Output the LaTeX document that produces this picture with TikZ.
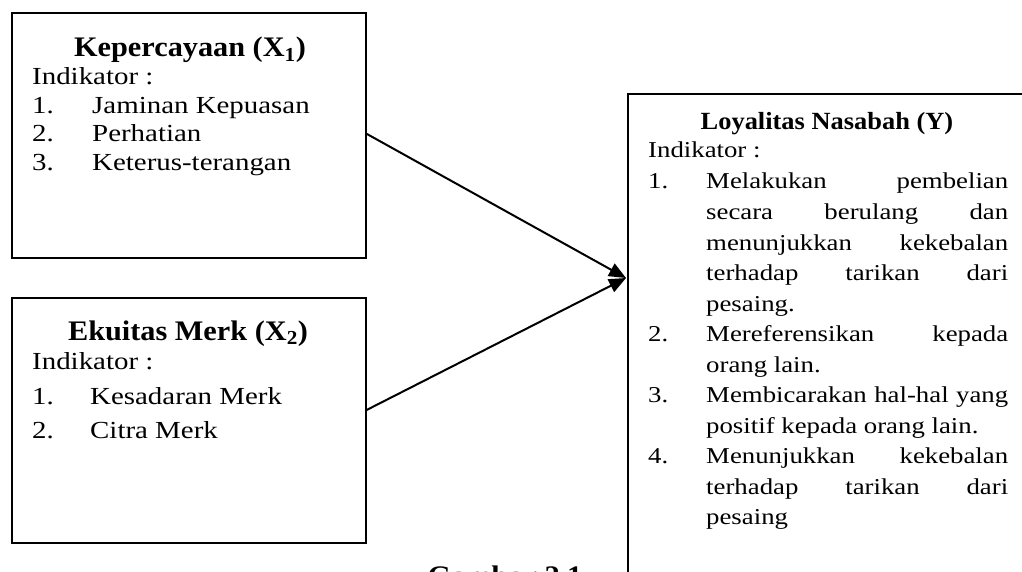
\documentclass[tikz,border=0pt]{standalone}
\usepackage{fontspec}
\setmainfont{Liberation Serif}[FakeStretch=1.07]
\newfontfamily\bodyfam{Liberation Serif}[FakeStretch=1.18]
\usetikzlibrary{arrows.meta}
\newcommand{\justline}[1]{\makebox[302pt][s]{#1}}
\tikzset{
  frame/.style={draw, line width=1.8pt, anchor=north west, inner sep=0pt},
  ttl/.style={font=\bfseries\fontsize{28.3}{30}\selectfont, anchor=base, inner sep=0pt},
  bodyA/.style={font=\bodyfam\fontsize{24.5}{28}\selectfont, anchor=base west, inner sep=0pt},
  ttlC/.style={font=\bfseries\fontsize{24.7}{28}\selectfont, anchor=base, inner sep=0pt},
  bodyC/.style={font=\bodyfam\fontsize{22.7}{28}\selectfont, anchor=base west, inner sep=0pt},
  link/.style={line width=2pt, -{Triangle[length=17pt,width=14pt]}}
}
\begin{document}
\begin{tikzpicture}[x=1pt,y=-1pt]
\useasboundingbox (0,0) rectangle (1022,572);
\clip (0,0) rectangle (1022,572);
% boxes
\node[frame, minimum width=354pt, minimum height=245pt] (k) at (11,12) {};
\node[frame, minimum width=354pt, minimum height=245pt] (e) at (11,297) {};
\node[frame, minimum width=397pt, minimum height=540pt] (y) at (627,93) {};
% box 1
\node[ttl] (k-title) at (190,57) {Kepercayaan (X\textsubscript{1})};
\node[bodyA] (k-ind) at (32,85) {Indikator :};
\foreach \n/\txt/\yy in {1/Jaminan Kepuasan/113.5, 2/Perhatian/142, 3/Keterus-terangan/170.5}{
  \node[bodyA] (k-n\n) at (32,\yy) {\n.};
  \node[bodyA] (k-i\n) at (92,\yy) {\txt};
}
% box 2
\node[ttl] (e-title) at (188,340) {Ekuitas Merk (X\textsubscript{2})};
\node[bodyA] (e-ind) at (32,369) {Indikator :};
\foreach \n/\txt/\yy in {1/Kesadaran Merk/404, 2/Citra Merk/438}{
  \node[bodyA] (e-n\n) at (32,\yy) {\n.};
  \node[bodyA] (e-i\n) at (90,\yy) {\txt};
}
% box 3
\node[ttlC] (y-title) at (827,130) {Loyalitas Nasabah (Y)};
\node[bodyC] (y-ind) at (648,158) {Indikator :};
\node[bodyC] (y-n1) at (648,189) {1.};
\node[bodyC] (y-l1) at (706,189) {\justline{Melakukan pembelian}};
\node[bodyC] (y-l2) at (706,219.5) {\justline{secara berulang dan}};
\node[bodyC] (y-l3) at (706,250) {\justline{menunjukkan kekebalan}};
\node[bodyC] (y-l4) at (706,280.5) {\justline{terhadap tarikan dari}};
\node[bodyC] (y-l5) at (706,311) {pesaing.};
\node[bodyC] (y-n2) at (648,341.5) {2.};
\node[bodyC] (y-l6) at (706,341.5) {\justline{Mereferensikan kepada}};
\node[bodyC] (y-l7) at (706,372) {orang lain.};
\node[bodyC] (y-n3) at (648,402.5) {3.};
\node[bodyC] (y-l8) at (706,402.5) {\justline{Membicarakan hal-hal yang}};
\node[bodyC] (y-l9) at (706,433) {positif kepada orang lain.};
\node[bodyC] (y-n4) at (648,463.5) {4.};
\node[bodyC] (y-l10) at (706,463.5) {\justline{Menunjukkan kekebalan}};
\node[bodyC] (y-l11) at (706,494) {\justline{terhadap tarikan dari}};
\node[bodyC] (y-l12) at (706,524.5) {pesaing};
% caption (cut off at bottom)
\node[ttl] (cap) at (505,585) {Gambar 2.1};
% connectors
\coordinate (tip) at (626,278);
\draw[link] ([yshift=1.5pt]k.east) -- (tip);
\draw[link] ([yshift=10.5pt]e.east) -- (tip);
\end{tikzpicture}
\end{document}
